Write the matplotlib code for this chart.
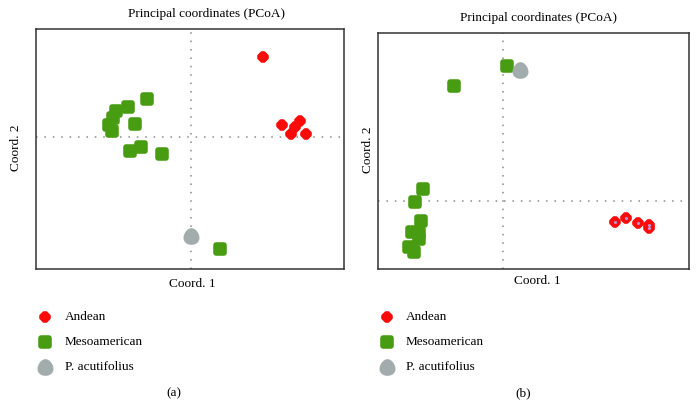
import numpy as np
import matplotlib
matplotlib.use('Agg')
import matplotlib.pyplot as plt
from matplotlib.lines import Line2D
from matplotlib.markers import MarkerStyle
from matplotlib.path import Path

plt.rcParams['font.family'] = ['Liberation Serif', 'DejaVu Serif']

# --- panel (a) ---
a_andean_x = [0.72, 0.91, 1.00, 1.04, 1.09, 1.15]
a_andean_y = [0.80, 0.12, 0.03, 0.10, 0.16, 0.03]
a_meso_x = [-0.44, -0.63, -0.75, -0.78, -0.82, -0.79, -0.56, -0.61, -0.50, -0.29, 0.29]
a_meso_y = [0.38, 0.30, 0.26, 0.19, 0.12, 0.06, 0.13, -0.14, -0.10, -0.17, -1.12]
a_acut_x = [0.00]
a_acut_y = [-0.99]
a_xlim = (-1.55, 1.53)
a_ylim = (-1.32, 1.08)

# --- panel (b) ---
b_andean_x = [1.12, 1.23, 1.35, 1.46, 1.46]
b_andean_y = [-0.21, -0.17, -0.22, -0.24, -0.27]
b_meso_x = [0.04, -0.49, -0.80, -0.88, -0.82, -0.91, -0.84, -0.84, -0.94, -0.89]
b_meso_y = [1.35, 1.15, 0.12, -0.01, -0.20, -0.31, -0.32, -0.38, -0.46, -0.51]
b_acut_x = [0.17]
b_acut_y = [1.31]
b_xlim = (-1.25, 1.86)
b_ylim = (-0.68, 1.68)

groups = ['Andean', 'Mesoamerican', 'P. acutifolius']
RED = '#fb0a0a'
GREEN = '#489c12'
GREY = '#a2acac'

# drop-like blob for P. acutifolius (narrower on top)
_t = np.linspace(0, 2 * np.pi, 60)
drop = Path(np.column_stack([np.cos(_t) * (1 - 0.22 * np.sin(_t)), np.sin(_t) * 1.08]))

style = {
    'Andean': dict(marker='8', ms=5.6, mew=2.6, color=RED),
    'Mesoamerican': dict(marker='s', ms=5.4, mew=4.0, color=GREEN),
    'P. acutifolius': dict(marker=drop, ms=9.5, mew=2.5, color=GREY),
}


def mstyle(name):
    return MarkerStyle(style[name]['marker'], joinstyle='round')


def draw_panel(ax, data, xlim, ylim, center_dot=False):
    ax.axhline(0, color='#8a8a8a', lw=1.1, ls=(0, (1, 4.5)), zorder=1)
    ax.axvline(0, color='#8a8a8a', lw=1.1, ls=(0, (1, 4.5)), zorder=1)
    for name, (xs, ys) in zip(groups, data):
        s = style[name]
        ax.plot(xs, ys, ls='none', marker=mstyle(name), ms=s['ms'], mew=s['mew'],
                mfc=s['color'], mec=s['color'], zorder=3)
    if center_dot:
        xs, ys = data[0]
        ax.plot(xs, ys, ls='none', marker='o', ms=2.2, mfc='#b896d8', mec='none', zorder=4)
    ax.set_xlim(*xlim)
    ax.set_ylim(*ylim)
    ax.set_xticks([])
    ax.set_yticks([])
    for sp in ax.spines.values():
        sp.set_color('#333333')
        sp.set_linewidth(1.1)


fig = plt.figure(figsize=(6.98, 4.19), dpi=100)
W, H = 698, 419


def box(x0, y0, x1, y1):
    return [x0 / W, 1 - y1 / H, (x1 - x0) / W, (y1 - y0) / H]


ax1 = fig.add_axes(box(36, 29, 344, 269))
ax2 = fig.add_axes(box(378, 33, 689, 269))

draw_panel(ax1, [(a_andean_x, a_andean_y), (a_meso_x, a_meso_y), (a_acut_x, a_acut_y)],
           a_xlim, a_ylim)
draw_panel(ax2, [(b_andean_x, b_andean_y), (b_meso_x, b_meso_y), (b_acut_x, b_acut_y)],
           b_xlim, b_ylim, center_dot=True)

fs = 9.5
# titles / axis labels
fig.text(207 / W, 1 - 14 / H, 'Principal coordinates (PCoA)', ha='center', va='center', fontsize=fs)
fig.text(539 / W, 1 - 18 / H, 'Principal coordinates (PCoA)', ha='center', va='center', fontsize=fs)
fig.text(192 / W, 1 - 284 / H, 'Coord. 1', ha='center', va='center', fontsize=fs)
fig.text(537 / W, 1 - 281 / H, 'Coord. 1', ha='center', va='center', fontsize=fs)
fig.text(16 / W, 1 - 148 / H, 'Coord. 2', ha='center', va='center', rotation=90, fontsize=fs)
fig.text(368 / W, 1 - 150 / H, 'Coord. 2', ha='center', va='center', rotation=90, fontsize=fs)

# legends
for mx, tx in [(45, 65), (387, 406)]:
    for name, ly in zip(groups, [317, 342, 367]):
        s = style[name]
        ln = Line2D([mx / W], [1 - ly / H], transform=fig.transFigure, ls='none',
                    marker=mstyle(name), ms=s['ms'], mew=s['mew'],
                    mfc=s['color'], mec=s['color'])
        fig.add_artist(ln)
        fig.text(tx / W, 1 - ly / H, name, ha='left', va='center', fontsize=fs)

fig.text(174 / W, 1 - 393 / H, '(a)', ha='center', va='center', fontsize=fs)
fig.text(523 / W, 1 - 393 / H, '(b)', ha='center', va='center', fontsize=fs)

fig.savefig('out.png', dpi=100, facecolor='white')
